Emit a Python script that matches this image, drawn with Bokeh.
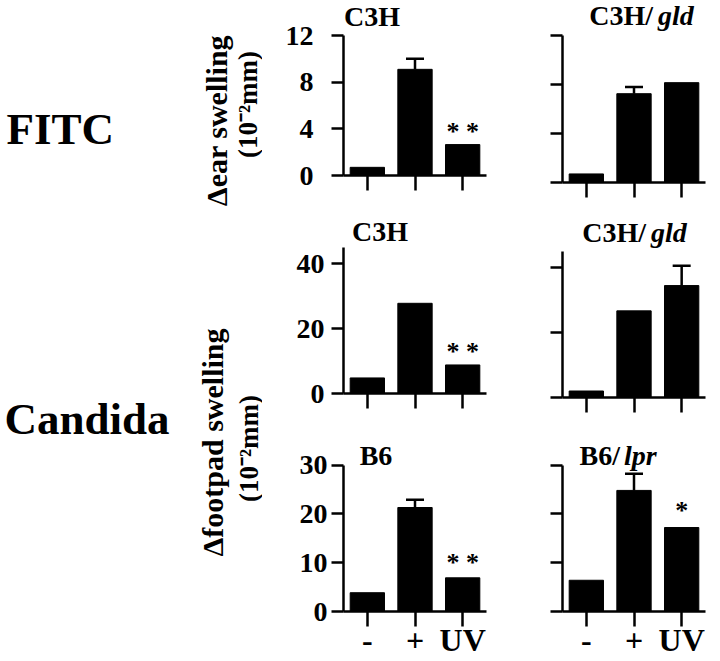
from math import pi
from bokeh.plotting import figure
from bokeh.layouts import row, column
from bokeh.models import (FactorRange, Range1d, FixedTicker, ColumnDataSource,
                          Whisker, TeeHead, Label)
from bokeh.core.properties import value
from bokeh.embed import file_html
from bokeh.resources import INLINE

# ---------------- data ----------------
treatments = ["-", "+", "UV"]

fitc_c3h = [0.7, 9.1, 2.65]
fitc_c3h_err = [0, 0.9, 0]
fitc_gld = [0.7, 7.25, 8.15]
fitc_gld_err = [0, 0.55, 0]

cand_c3h = [4.8, 27.8, 8.8]
cand_c3h_err = [0, 0, 0]
cand_gld = [2.0, 26.7, 34.5]
cand_gld_err = [0, 0, 6.1]

cand_b6 = [3.85, 21.3, 6.9]
cand_b6_err = [0, 1.6, 0]
cand_lpr = [6.4, 24.8, 17.2]
cand_lpr_err = [0, 3.4, 0]

ear_ticks = [0, 4, 8, 12]
footpad_c3h_ticks = [0, 20, 40]
footpad_b6_ticks = [0, 10, 20, 30]

FONT = "Liberation Serif"


def make_panel(vals, errs, star, ymax, yticks, width, height, bl, br, bb, axis_h,
               show_ylabels=False, ylab_standoff=5, star_offset=-4, xlabels=False):
    frame_h = height - bb
    y_end = ymax * frame_h / axis_h          # room above the axis for the panel title
    p = figure(x_range=FactorRange(factors=treatments), y_range=Range1d(0, y_end),
               width=width, height=height, output_backend="svg", toolbar_location=None,
               min_border_left=bl, min_border_right=br, min_border_top=0,
               min_border_bottom=bb)
    p.outline_line_color = None
    p.grid.visible = False
    p.background_fill_color = "white"
    p.border_fill_color = "white"

    src = ColumnDataSource(dict(t=treatments, v=vals))
    p.vbar(x="t", top="v", bottom=0, width=0.72, source=src,
           fill_color="black", line_color="black")

    ids = [i for i, e in enumerate(errs) if e > 0]
    if ids:
        wsrc = ColumnDataSource(dict(t=[treatments[i] for i in ids],
                                     lo=[vals[i] for i in ids],
                                     hi=[vals[i] + errs[i] for i in ids]))
        p.add_layout(Whisker(source=wsrc, base="t", lower="lo", upper="hi",
                             dimension="height", line_width=2.5, line_color="black",
                             upper_head=TeeHead(size=18, line_width=2.5, line_color="black"),
                             lower_head=None))

    if star:
        ssrc = ColumnDataSource(dict(t=[treatments[2]], v=[vals[2]], s=[star]))
        p.text(x="t", y="v", text="s", source=ssrc, text_font=value(FONT),
               text_font_style="bold", text_font_size="26px", text_align="center",
               text_baseline="alphabetic", y_offset=star_offset, text_color="black")

    for ax in (p.xaxis[0], p.yaxis[0]):
        ax.axis_line_width = 2.5
        ax.axis_line_color = "black"
        ax.major_tick_line_width = 2.5
        ax.major_tick_line_color = "black"
        ax.major_tick_in = 0
        ax.minor_tick_line_color = None
    p.xaxis.major_tick_out = 15
    p.yaxis.major_tick_out = 12
    p.yaxis.ticker = FixedTicker(ticks=yticks)
    p.yaxis.bounds = (0, ymax)

    if xlabels:
        p.xaxis.major_label_text_font = FONT
        p.xaxis.major_label_text_font_style = "bold"
        p.xaxis.major_label_text_font_size = "32px"
        p.xaxis.major_label_text_color = "black"
        p.xaxis.major_label_standoff = -5
    else:
        p.xaxis.major_label_text_color = None
        p.xaxis.major_label_text_font_size = "1px"
        p.xaxis.major_label_standoff = 0
    if show_ylabels:
        p.yaxis.major_label_text_font = FONT
        p.yaxis.major_label_text_font_style = "bold"
        p.yaxis.major_label_text_font_size = "28px"
        p.yaxis.major_label_text_color = "black"
        p.yaxis.major_label_standoff = ylab_standoff
    else:
        p.yaxis.major_label_text_color = None
        p.yaxis.major_label_text_font_size = "1px"
        p.yaxis.major_label_standoff = 0
    return p


def add_title(p, parts, y_down):
    # parts: (text, px offset from middle category, align, style)
    for text, dx, align, style in parts:
        tsrc = ColumnDataSource(dict(t=[treatments[1]], y=[p.y_range.end], s=[text]))
        p.text(x="t", y="y", text="s", source=tsrc, x_offset=dx, y_offset=y_down,
               text_align=align, text_baseline="middle", text_font=value(FONT),
               text_font_style=style, text_font_size="28px", text_color="black")


# column 1 (left panels)
p1 = make_panel(fitc_c3h, fitc_c3h_err, "* *", 12, ear_ticks, 258, 200, 79, 29, 25, 140,
                show_ylabels=True, ylab_standoff=18, star_offset=-13)
add_title(p1, [("C3H", -43, "center", "bold")], 16)
p3 = make_panel(cand_c3h, cand_c3h_err, "* *", 45, footpad_c3h_ticks, 258, 220, 79, 29, 27, 146,
                show_ylabels=True, ylab_standoff=7, star_offset=-13)
add_title(p3, [("C3H", -35, "center", "bold")], 31)
p5 = make_panel(cand_b6, cand_b6_err, "* *", 30, footpad_b6_ticks, 258, 240, 81, 34, 47, 148,
                show_ylabels=True, ylab_standoff=4, star_offset=-15, xlabels=True)
add_title(p5, [("B6", -39, "center", "bold")], 35)

# column 2 (right panels)
p2 = make_panel(fitc_gld, fitc_gld_err, None, 12, ear_ticks, 198, 200, 42, 10, 18, 147)
add_title(p2, [("C3H/", 19, "right", "bold"), ("gld", 24, "left", "bold italic")], 15)
p4 = make_panel(cand_gld, cand_gld_err, None, 45, footpad_c3h_ticks, 198, 220, 40, 12, 23, 146)
add_title(p4, [("C3H/", 12, "right", "bold"), ("gld", 17, "left", "bold italic")], 32)
p6 = make_panel(cand_lpr, cand_lpr_err, "*", 30, footpad_b6_ticks, 198, 240, 40, 13, 47, 148,
                star_offset=-17, xlabels=True)
add_title(p6, [("B6/", -14, "right", "bold"), ("lpr", -10, "left", "bold italic")], 35)

# left text column
left = figure(width=262, height=660, x_range=Range1d(0, 262), y_range=Range1d(660, 0),
              x_axis_type=None, y_axis_type=None, min_border=0,
              output_backend="svg", toolbar_location=None)
left.outline_line_color = None
left.grid.visible = False


def ltext(text, x, y, size, angle=0.0, align="left", baseline="middle"):
    left.add_layout(Label(x=x, y=y, text=text, text_font=FONT, text_font_style="bold",
                          text_font_size=size, angle=angle, text_align=align,
                          text_baseline=baseline, text_color="black"))


ltext("FITC", 6, 128, "45px")
ltext("Candida", 4, 418, "45px")
ltext("\u0394ear swelling", 216, 120, "30px", angle=pi / 2, align="center")
ltext("(10\u207b\u00b2mm)", 247, 104, "27px", angle=pi / 2, align="center")
ltext("\u0394footpad swelling", 212, 442, "30px", angle=pi / 2, align="center")
ltext("(10\u207b\u00b2mm)", 248, 448, "27px", angle=pi / 2, align="center")

layout = row(left, column(p1, p3, p5), column(p2, p4, p6))

open("out.html", "w").write(file_html(layout, INLINE))
